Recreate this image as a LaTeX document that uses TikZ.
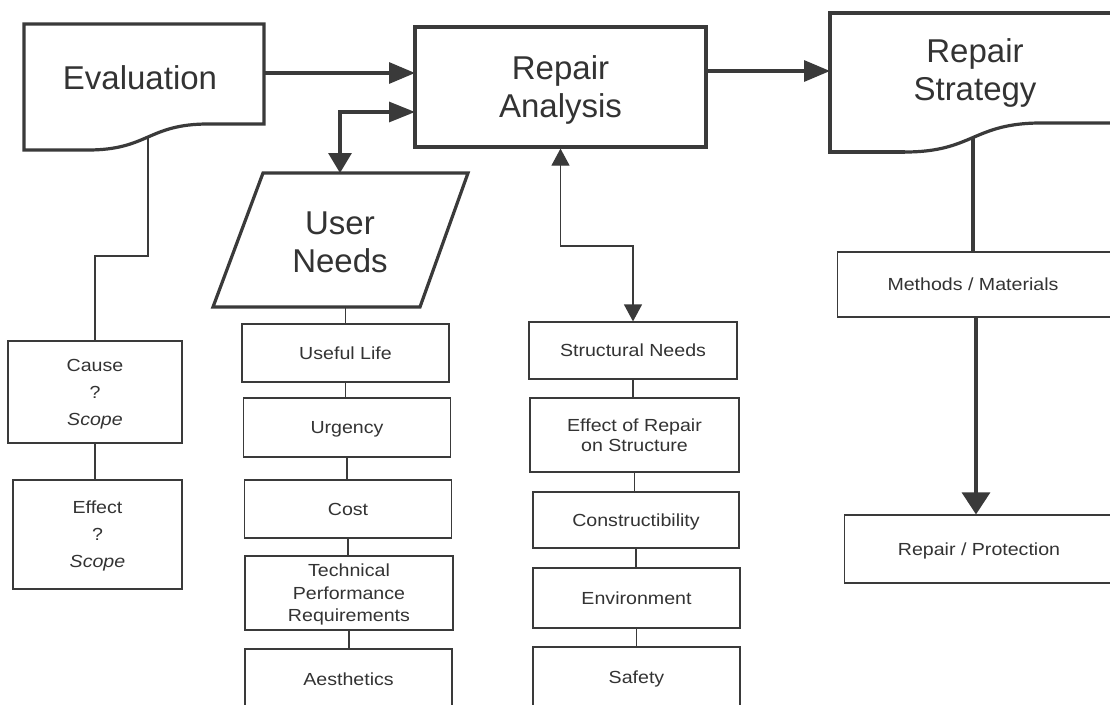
\documentclass[tikz,border=0pt]{standalone}
\usepackage{fontspec}
\setmainfont{Liberation Sans}
\newfontfamily\smallfont[FakeStretch=1.12]{Liberation Sans}
\usetikzlibrary{arrows.meta}
\definecolor{ink}{HTML}{3A3A3A}
\definecolor{txt}{HTML}{333333}
\begin{document}
\begin{tikzpicture}[x=1pt,y=-1pt,
  thickln/.style={draw=ink,line width=3.2pt,line join=miter},
  thinln/.style={draw=ink,line width=1.2pt},
  bigtxt/.style={text=txt,font=\fontsize{33}{38}\selectfont,align=center,inner sep=0pt,text depth=0pt},
  smalltxt/.style={text=txt,font=\smallfont\fontsize{17.5}{22.5}\selectfont,align=center,inner sep=0pt,text depth=0pt},
  sbox/.style={thinln,smalltxt,minimum width=207pt,minimum height=58pt},
  bigtip/.style={-{Triangle[length=26pt,width=21pt]}},
  downtip/.style={-{Triangle[length=22pt,width=28pt]}},
  bothtip/.style={{Triangle[length=20pt,width=23pt]}-{Triangle[length=26pt,width=20pt]}},
  thintips/.style={{Triangle[length=17pt,width=18pt]}-{Triangle[length=17pt,width=18pt]}}
]
\useasboundingbox (0,0) rectangle (1110,704);
\fill[white] (0,0) rectangle (1110,704);

% Evaluation document shape
\draw[thickln] (88,150) -- (24,150) -- (24,24) -- (264,24) -- (264,124) -- (208,124)
  .. controls (148,124) and (148,150) .. (88,150);
\node[bigtxt] (evt) at (140,78) {Evaluation};
\coordinate (evE) at (264,73);
\coordinate (evJ) at (148,137);

% Repair Analysis
\node[thickln,bigtxt,minimum width=291pt,minimum height=120pt] (ra) at (560.5,87) {Repair\\Analysis};
\coordinate (raIn1) at (415,73);
\coordinate (raIn2) at (415,112);
\coordinate (raOut) at (706,71);

% Repair Strategy document shape
\draw[thickln] (905,152) -- (830,152) -- (830,13) -- (1125,13);
\draw[thickln] (1125,123) -- (1041,123) .. controls (973,123) and (973,152) .. (905,152);
\node[bigtxt] (rst) at (975,70) {Repair\\Strategy};
\coordinate (rsIn) at (830,71);
\coordinate (rsJ) at (973,137.5);

% User Needs parallelogram
\draw[thickln] (263,173) -- (468,173) -- (420,307) -- (213,307) -- cycle;
\node[bigtxt] (unt) at (340,242) {User\\Needs};
\coordinate (unTop) at (340,173);
\coordinate (unBot) at (345.5,307);

% Cause / Effect
\node[thinln,smalltxt,font=\smallfont\fontsize{17.5}{27}\selectfont,minimum width=174pt,minimum height=102pt] (cause) at (95,392) {Cause\\?\\\textit{Scope}};
\node[thinln,smalltxt,font=\smallfont\fontsize{17.5}{27}\selectfont,minimum width=169pt,minimum height=109pt] (effect) at (97.5,534.5) {Effect\\?\\\textit{Scope}};
\coordinate (evBend) at (120,256);

% User needs column
\node[sbox] (ul) at (345.5,353) {Useful Life};
\node[sbox,minimum height=59pt] (ug) at (347,427.5) {Urgency};
\node[sbox] (co) at (348,509) {Cost};
\node[sbox,minimum width=208pt,minimum height=74pt] (tp) at (349,593) {Technical\\Performance\\Requirements};
\node[sbox,minimum height=60pt] (ae) at (348.5,679) {Aesthetics};

% Structural column
\node[sbox,minimum width=208pt,minimum height=57pt] (sn) at (633,350.5) {Structural Needs};
\node[sbox,minimum width=209pt,minimum height=74pt,font=\smallfont\fontsize{17.5}{20}\selectfont] (er) at (634.5,435) {Effect of Repair\\on Structure};
\node[sbox,minimum width=206pt,minimum height=56pt] (cn) at (636,520) {Constructibility};
\node[sbox,minimum height=60pt] (en) at (636.5,598) {Environment};
\node[sbox,minimum height=60pt] (sa) at (636.5,677) {Safety};
\coordinate (midR) at (600,246);

% Strategy column
\node[thinln,minimum width=290pt,minimum height=65pt,anchor=west] (mm) at (837,284.5) {};
\node[smalltxt] (mmt) at (973,284.5) {Methods / Materials};
\node[thinln,minimum width=290pt,minimum height=68pt,anchor=west] (rp) at (844,549) {};
\node[smalltxt] (rpt) at (979,549) {Repair / Protection};

% Connectors
\draw[thickln,bigtip] (evE) -- (raIn1);
\draw[thickln,bothtip,line join=miter] (unTop) |- (raIn2);
\draw[thickln,bigtip] (raOut) -- (rsIn);
\draw[thinln,thintips] (ra.south) |- (midR) -| (sn.north);
\draw[thinln] (evJ) |- (evBend) -| (cause.north);
\draw[thinln] (cause.south) -- (cause.south |- effect.north);
\draw[thinln] (unBot) -- (ul.north);
\draw[thinln] (ul.south) -- (ul.south |- ug.north);
\draw[thinln] (ug.south) -- (ug.south |- co.north);
\draw[thinln] (co.south) -- (co.south |- tp.north);
\draw[thinln] (tp.south) -- (tp.south |- ae.north);
\draw[thinln] (sn.south) -- (sn.south |- er.north);
\draw[thinln] (er.south) -- (er.south |- cn.north);
\draw[thinln] (cn.south) -- (cn.south |- en.north);
\draw[thinln] (en.south) -- (en.south |- sa.north);
\draw[thickln] (rsJ) -- (rsJ |- mm.north);
\draw[thickln,downtip] ([xshift=3pt]mmt.center |- mm.south) -- ([xshift=3pt]mmt.center |- rp.north);
\end{tikzpicture}
\end{document}
